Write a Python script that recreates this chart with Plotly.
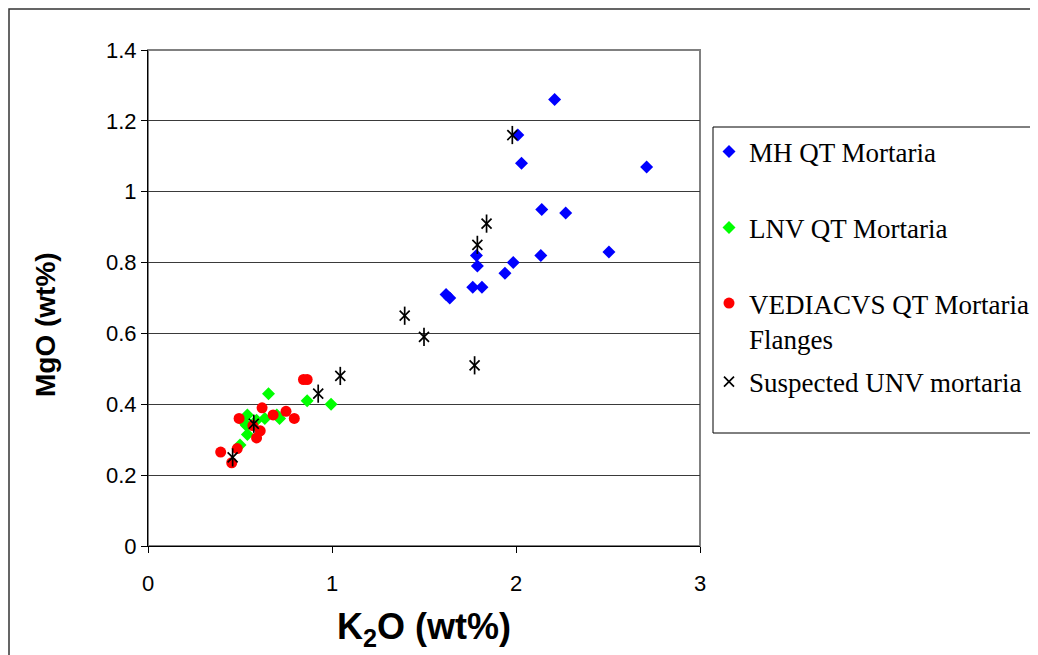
import plotly.graph_objects as go

# ---- data ----
mh_k2o = [2.21, 2.01, 2.03, 2.71, 2.14, 2.27, 1.785, 1.79, 1.985, 2.135, 2.505, 1.94, 1.765, 1.815, 1.62, 1.64]
mh_mgo = [1.26, 1.16, 1.08, 1.07, 0.95, 0.94, 0.82, 0.79, 0.80, 0.82, 0.83, 0.77, 0.73, 0.73, 0.71, 0.70]

lnv_k2o = [0.655, 0.865, 0.995, 0.54, 0.635, 0.70, 0.715, 0.535, 0.54, 0.50, 0.59, 0.52]
lnv_mgo = [0.43, 0.41, 0.40, 0.37, 0.36, 0.37, 0.36, 0.34, 0.315, 0.285, 0.355, 0.35]

ved_k2o = [0.62, 0.495, 0.68, 0.75, 0.795, 0.61, 0.57, 0.59, 0.395, 0.485, 0.455, 0.845, 0.865]
ved_mgo = [0.39, 0.36, 0.37, 0.38, 0.36, 0.325, 0.34, 0.305, 0.265, 0.275, 0.235, 0.47, 0.47]

unv_k2o = [1.98, 1.84, 1.79, 1.395, 1.50, 1.775, 1.045, 0.925, 0.575, 0.46]
unv_mgo = [1.16, 0.91, 0.85, 0.65, 0.59, 0.51, 0.48, 0.43, 0.345, 0.25]

names = ["MH QT Mortaria", "LNV QT Mortaria", "VEDIACVS QT Mortaria<br>Flanges", "Suspected UNV mortaria"]
x_title = "K<sub>2</sub>O (wt%)"
y_title = "MgO (wt%)"

# ---- figure geometry (screen pixels; page has an 8px body margin) ----
OFF = 8
W, H = 1038, 655
L, R, T, B = 148 - OFF, 700 - OFF, 50 - OFF, 546 - OFF


def px_x(p):
    return (p - OFF - L) / (R - L)


def px_y(p):
    return (B - (p - OFF)) / (B - T)


fig = go.Figure()
fig.add_trace(go.Scatter(x=mh_k2o, y=mh_mgo, mode="markers", name=names[0],
                         marker=dict(symbol="diamond", size=10, color="#0000FF"),
                         legend="legend"))
fig.add_trace(go.Scatter(x=lnv_k2o, y=lnv_mgo, mode="markers", name=names[1],
                         marker=dict(symbol="diamond", size=10, color="#00FF00"),
                         legend="legend2"))
fig.add_trace(go.Scatter(x=ved_k2o, y=ved_mgo, mode="markers", name=names[2],
                         marker=dict(symbol="circle", size=11, color="#FF0000"),
                         legend="legend3"))
fig.add_trace(go.Scatter(x=unv_k2o, y=unv_mgo, mode="markers", name=names[3],
                         marker=dict(symbol="x-thin-open", size=10, color="black",
                                     line=dict(color="black", width=1.7)),
                         legend="legend4"))
fig.add_trace(go.Scatter(x=unv_k2o, y=unv_mgo, mode="markers", showlegend=False,
                         hoverinfo="skip",
                         marker=dict(symbol="line-ns-open", size=13, color="black",
                                     line=dict(color="black", width=1.7))))

legend_font = dict(family="Liberation Serif, Times New Roman, serif", size=27, color="black")
leg_common = dict(x=px_x(709), xanchor="left", yanchor="middle", font=legend_font,
                  bgcolor="rgba(0,0,0,0)", borderwidth=0, itemsizing="trace")

sans = "Liberation Sans, Arial, sans-serif"

fig.update_layout(
    width=W, height=H, autosize=False,
    margin=dict(l=L, r=W - R, t=T, b=H - B, pad=0),
    paper_bgcolor="white", plot_bgcolor="white",
    font=dict(family=sans, color="black"),
    legend=dict(y=px_y(152), **leg_common),
    legend2=dict(y=px_y(228), **leg_common),
    legend3=dict(y=px_y(321), valign="top", **leg_common),
    legend4=dict(y=px_y(382), **leg_common),
    xaxis=dict(range=[0, 3], dtick=1, tick0=0, showgrid=False, zeroline=False,
               showline=True, linecolor="black", linewidth=1,
               ticks="outside", ticklen=6, tickcolor="black",
               ticklabelstandoff=12,
               tickfont=dict(size=22),
               title=dict(text=x_title, standoff=18,
                          font=dict(size=36, family=sans, weight="bold"))),
    yaxis=dict(range=[0, 1.4], dtick=0.2, tick0=0, showgrid=True, gridcolor="#3a3a3a",
               gridwidth=1, zeroline=False, showline=True, linecolor="black", linewidth=1,
               ticks="outside", ticklen=6, tickcolor="black",
               tickfont=dict(size=22)),
    annotations=[
        dict(text=y_title, textangle=-90, xref="paper", yref="paper",
             x=px_x(45), y=px_y(325), xanchor="center", yanchor="middle",
             showarrow=False, font=dict(size=28, family=sans, weight="bold")),
    ],
    shapes=[
        # plot-area border (grey)
        dict(type="rect", xref="paper", yref="paper", x0=0, x1=1, y0=0, y1=1,
             line=dict(color="#808080", width=2), layer="below"),
        # legend box
        dict(type="rect", xref="paper", yref="paper", x0=px_x(713), x1=px_x(1060),
             y0=px_y(433), y1=px_y(127), line=dict(color="black", width=1)),
        # outer chart border
        dict(type="rect", xref="paper", yref="paper", x0=px_x(9), x1=px_x(1070),
             y0=px_y(680), y1=px_y(9), line=dict(color="#333333", width=1.5)),
    ],
)

fig.write_html("out.html")
